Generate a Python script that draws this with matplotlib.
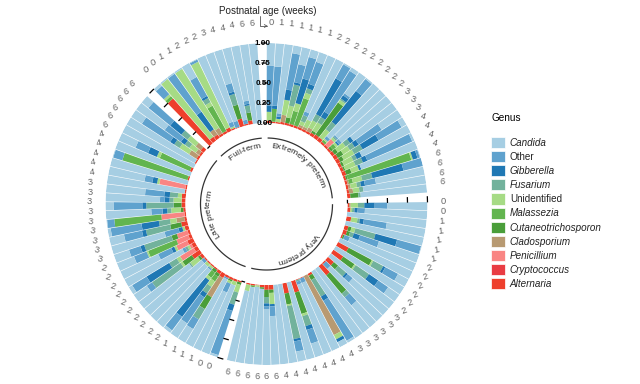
import numpy as np
import matplotlib
matplotlib.use('Agg')
import matplotlib.pyplot as plt
from matplotlib.patches import Patch

plt.rcParams['font.family'] = ['Liberation Sans', 'DejaVu Sans']

# stacking order, inner ring outwards
genera = ['Alternaria', 'Cryptococcus', 'Penicillium', 'Cladosporium', 'Cutaneotrichosporon',
          'Malassezia', 'Unidentified', 'Fusarium', 'Gibberella', 'Other', 'Candida']
colors = ['#EE3F2C', '#E93C43', '#F98583', '#B89A72', '#4A9E3A',
          '#62B54F', '#A6DB85', '#72B29C', '#1F78B4', '#5FA2CE', '#A6CEE3']

# columns follow genera
extremely = [
    [.03, 0, 0, 0, 0, 0, .11, 0, .08, .50, .28],
    [.02, 0, 0, 0, 0, .16, 0, 0, .04, .49, .29],
    [.02, 0, 0, 0, 0, 0, .04, 0, .03, .04, .87],
    [.03, 0, 0, .09, 0, 0, .19, 0, .13, .46, .10],
    [.03, 0, 0, 0, .07, 0, .15, .27, .03, .23, .22],
    [.03, 0, 0, 0, 0, .17, .10, 0, .32, .28, .10],
    [.03, 0, 0, 0, 0, .36, .07, .06, .06, .29, .13],
    [.03, 0, 0, .03, 0, 0, .05, .08, 0, .05, .76],
    [.03, 0, 0, .03, 0, 0, .10, 0, 0, 0, .84],
    [.03, 0, 0, .05, 0, 0, .10, .09, .51, .20, .02],
    [.04, 0, 0, 0, .03, 0, .12, .08, .08, .60, .05],
    [.05, 0, 0, 0, .49, 0, .04, .02, .05, .03, .32],
    [.05, 0, 0, 0, 0, 0, .13, .12, .49, .19, .02],
    [.03, 0, 0, 0, 0, .03, .02, 0, 0, .04, .88],
    [.03, 0, .10, 0, 0, 0, .03, .02, 0, .02, .80],
    [.03, 0, 0, 0, .03, .05, .03, 0, .02, .04, .80],
    [.04, 0, 0, 0, .05, 0, .12, .07, .05, 0, .67],
    [.05, 0, 0, 0, .08, 0, .10, .07, .06, .34, .30],
    [.05, 0, 0, 0, .05, 0, .15, .12, .23, .33, .07],
    [.04, 0, 0, 0, .03, 0, .13, .05, .07, 0, .68],
    [.04, 0, 0, 0, .02, 0, .14, .10, .06, .61, .03],
    [.05, 0, 0, 0, .07, 0, .10, 0, .03, 0, .75],
    [.03, 0, 0, 0, .02, .83, .02, 0, .06, .03, .01],
    [.03, 0, 0, .02, 0, .05, .12, .13, .40, .25, 0],
    [.03, 0, 0, .03, 0, 0, .08, .05, .05, .14, .62],
    [.03, 0, 0, .05, 0, 0, .08, .05, 0, 0, .79],
    [.04, 0, 0, 0, .10, 0, 0, .03, 0, 0, .83],
]
very = [
    [.02, 0, 0, .02, 0, 0, .09, .08, .13, .16, .50],
    [.04, 0, 0, 0, 0, 0, .02, .03, .04, .09, .78],
    [0, 0, 0, 0, 0, 0, 0, 0, 0, 0, 1],
    [.06, 0, 0, 0, 0, 0, .08, .03, .05, .29, .49],
    [0, 0, 0, 0, 0, 0, 0, 0, 0, 0, 1],
    [.05, 0, 0, 0, .04, 0, .05, .26, .28, .31, .01],
    [.05, 0, 0, 0, .04, 0, 0, .05, .08, .25, .53],
    [.02, 0, 0, 0, .02, 0, 0, 0, 0, .07, .89],
    [0, 0, 0, 0, 0, 0, 0, 0, 0, 0, 1],
    [.15, 0, 0, 0, .33, 0, .02, .14, .03, .18, .15],
    [0, 0, 0, 0, 0, 0, 0, 0, 0, 0, 1],
    [.15, 0, 0, 0, .17, 0, .02, .20, .14, .15, .17],
    [0, 0, 0, 0, 0, 0, 0, 0, 0, 0, 1],
    [.10, 0, 0, 0, .07, 0, 0, .13, .03, .08, .59],
    [.02, 0, 0, 0, 0, 0, 0, 0, 0, .08, .90],
    [.15, 0, 0, 0, .30, 0, 0, .06, 0, .13, .36],
    [0, 0, 0, 0, 0, 0, 0, 0, 0, 0, 1],
    [0, 0, 0, 0, 0, 0, 0, 0, 0, 0, 1],
    [.03, 0, 0, 0, .06, 0, 0, .24, .06, .58, .03],
    [0, 0, 0, .83, 0, 0, .06, 0, .04, 0, .07],
    [.01, 0, 0, 0, 0, 0, 0, 0, 0, .06, .93],
    [.01, 0, 0, 0, 0, 0, 0, .02, 0, .04, .93],
    [.15, 0, 0, 0, .28, 0, .03, .13, .05, .18, .18],
    [0, 0, 0, 0, 0, 0, 0, 0, 0, 0, 1],
    [.13, 0, 0, 0, .14, 0, .02, .42, .03, .13, .13],
    [0, 0, 0, 0, 0, 0, 0, 0, 0, 0, 1],
    [0, 0, 0, 0, 0, 0, 0, 0, 0, 0, 1],
    [.06, 0, 0, 0, .04, 0, .14, 0, .03, .12, .61],
    [.06, 0, 0, 0, .09, 0, 0, .08, .04, .03, .70],
    [.03, 0, 0, 0, .02, 0, 0, 0, 0, 0, .95],
    [.01, 0, 0, 0, 0, 0, .02, 0, 0, 0, .97],
    [.02, 0, 0, 0, 0, .02, 0, 0, 0, 0, .96],
    [.02, 0, 0, 0, 0, 0, .08, 0, 0, 0, .90],
]
late = [
    [.02, 0, 0, 0, .03, 0, .10, .16, .08, .58, .03],
    [.03, 0, 0, 0, 0, 0, .05, 0, 0, 0, .92],
    [.03, 0, 0, 0, .02, 0, .03, 0, 0, .12, .80],
    [.03, 0, 0, 0, 0, 0, 0, 0, 0, .02, .95],
    [.06, 0, 0, .28, .17, 0, 0, .15, 0, .14, .20],
    [.04, 0, 0, 0, .04, .07, .08, .10, .06, .39, .22],
    [.02, 0, 0, 0, .04, .08, .04, 0, .57, .21, .04],
    [.02, 0, 0, 0, 0, 0, .03, 0, 0, .02, .93],
    [.02, 0, 0, 0, 0, 0, .04, 0, 0, 0, .94],
    [.02, 0, 0, 0, 0, 0, 0, 0, 0, .04, .94],
    [.04, 0, 0, 0, .03, 0, .12, .02, 0, 0, .79],
    [.12, 0, 0, 0, .14, 0, .03, .43, 0, .08, .20],
    [.05, 0, .20, 0, 0, 0, .05, .11, .33, .21, .05],
    [.05, 0, .03, 0, 0, 0, .03, .03, 0, .04, .82],
    [.08, 0, .15, 0, 0, 0, .03, 0, .04, .18, .52],
    [.04, 0, .16, 0, 0, .38, .02, 0, 0, .17, .23],
    [.03, 0, .14, 0, .07, 0, 0, .36, .05, .15, .20],
    [.05, 0, 0, 0, 0, 0, .03, 0, .05, .18, .69],
    [.08, 0, 0, 0, .14, 0, 0, .31, .05, .23, .19],
    [.03, 0, 0, .10, 0, 0, .08, .14, .22, .39, .04],
    [.02, 0, .29, 0, 0, .59, 0, 0, 0, .09, .01],
    [.03, 0, 0, 0, .03, 0, .12, .05, .06, .14, .57],
    [.05, 0, 0, 0, .10, 0, 0, .34, .05, .36, .10],
    [.05, 0, 0, 0, 0, 0, .10, .05, .06, .06, .68],
    [.05, 0, 0, 0, 0, 0, .05, .10, .07, .24, .49],
    [.02, 0, 0, 0, 0, 0, 0, 0, 0, 0, .98],
    [.02, 0, .33, 0, 0, 0, .03, 0, .06, .10, .46],
    [0, 0, 0, 0, 0, 0, 0, 0, 0, 0, 1],
    [.02, 0, 0, 0, 0, .85, 0, 0, 0, .12, .01],
    [0, 0, 0, 0, 0, 0, 0, 0, 0, 0, 1],
    [.03, 0, 0, 0, 0, .41, .04, 0, .12, .17, .23],
    [0, 0, 0, 0, 0, 0, 0, 0, 0, 0, 1],
    [.02, 0, 0, 0, 0, 0, 0, 0, 0, 0, .98],
    [.03, 0, 0, .11, 0, 0, .14, .08, .06, .42, .16],
    [.03, 0, 0, .05, 0, 0, .10, .07, .06, .25, .44],
    [.05, 0, 0, .08, 0, 0, .13, .10, .18, .35, .11],
]
full = [
    [.75, 0, 0, 0, 0, .04, .03, 0, 0, .14, .04],
    [.06, 0, 0, 0, 0, 0, .92, 0, 0, 0, .02],
    [.05, 0, 0, .08, 0, 0, 0, 0, .27, .58, .02],
    [.03, 0, 0, .08, 0, 0, .87, 0, 0, 0, .02],
    [.03, 0, 0, 0, 0, .36, .05, .06, .03, .27, .20],
    [.05, 0, 0, 0, 0, 0, .91, 0, 0, .03, .01],
    [.02, 0, 0, 0, 0, 0, .02, 0, 0, .06, .90],
    [.01, 0, 0, 0, 0, 0, 0, 0, 0, .08, .91],
    [.10, 0, 0, 0, .18, 0, 0, .14, .03, .11, .44],
    [.02, 0, 0, 0, 0, 0, 0, 0, 0, .05, .93],
    [.05, 0, 0, 0, .10, 0, 0, .09, .02, .04, .70],
    [0, 0, 0, 0, 0, 0, 0, 0, 0, 0, 1],
    [0, 0, 0, 0, 0, 0, 0, 0, 0, 0, 1],
]

ages_extremely = list('0111111222222222333444466' + '66')
ages_very = list('00' + '11111' + '222222' + '333333' + '44444444' + '666666')
ages_late = list('00' + '1111' + '2222222222' + '333333333' + '44444' + '666666')
ages_full = list('0011222' + '3' + '444' + '66')

groups = [extremely, very, late, full]
ages = [ages_extremely, ages_very, ages_late, ages_full]
group_names = ['Extremely preterm', 'Very preterm', 'Late preterm', 'Full-term']
group_label_deg = [39, 145, 259, 337]
ticks = [0, .25, .5, .75, 1]
tick_labels = ['0.00', '0.25', '0.50', '0.75', '1.00']

fig = plt.figure(figsize=(6.4, 3.84), dpi=100)
ax = fig.add_axes([(266.5 - 161) / 640, (384 - 204 - 161) / 384, 322 / 640, 322 / 384], projection='polar')
ax.set_theta_zero_location('N')
ax.set_theta_direction(-1)
ax.set_ylim(0, 1)
ax.set_rorigin(-81 / 80)
ax.set_axis_off()

n_slots = sum(len(g) for g in groups) + len(groups)
slot = 2 * np.pi / n_slots
r_px = 80.0


def px(r):
    # radius in pixels from the middle to data units
    return (r - 81) / r_px


def digit_rot(t):
    return -20 * np.sin(2 * t)


pos = 0
renderer = fig.canvas.get_renderer()
for g, (rows, age, name) in enumerate(zip(groups, ages, group_names)):
    start = pos
    for row, a in zip(rows, age):
        t = (pos + .5) * slot
        bottom = 0
        for val, col in zip(row, colors):
            if val > 0:
                ax.bar(t, val, width=slot * .93, bottom=bottom, color=col, linewidth=0)
            bottom += val
        ax.text(t, px(177), a, ha='center', va='bottom', fontsize=6.7, color='#666666',
                rotation=digit_rot(t), clip_on=False)
        pos += 1
    end = pos

    # axis ticks sit in the gap before each group
    for tk in ticks:
        ax.plot([start * slot - slot * .55, start * slot], [tk, tk], color='black', lw=.9,
                clip_on=False, zorder=3)

    # group arc on the inside
    arc = np.linspace(start * slot + np.radians(1.5), end * slot - np.radians(1.5), 80)
    ax.plot(arc, np.full(arc.size, px(66)), color='#333333', lw=.9, clip_on=False)

    # curved group name, letter by letter
    centre = np.radians(group_label_deg[g])
    probe = fig.text(0, 0, name, fontsize=6.1, alpha=0)

    def width(s):
        probe.set_text(s)
        return probe.get_window_extent(renderer).width if s else 0.0

    total = width(name)
    for i, ch in enumerate(name):
        mid = (width(name[:i]) + width(name[:i + 1])) / 2 - total / 2
        th = centre + mid / 58
        ax.text(th, px(58), ch, ha='center', va='center', fontsize=6.1, color='#222222',
                rotation=-np.degrees(th), rotation_mode='anchor', clip_on=False)
    probe.remove()
    pos += 1

for tk, lab in zip(ticks, tick_labels):
    ax.text(-slot / 2, tk, lab, ha='center', va='center', fontsize=5.8, fontweight='bold',
            color='black', clip_on=False, zorder=5)

fig.text(267.5 / 640, 1 - 10.5 / 384, 'Postnatal age (weeks)', ha='center', va='center', fontsize=7.1, color='#222222')
ax.annotate('', xy=(268, 384 - 26), xytext=(260, 384 - 16), xycoords='figure pixels', textcoords='figure pixels',
            arrowprops=dict(arrowstyle='->', color='#555555', lw=.6, mutation_scale=5, shrinkA=0, shrinkB=0,
                            connectionstyle='angle,angleA=90,angleB=0,rad=0'))

handles = [Patch(facecolor=c, edgecolor='white', linewidth=.5) for c in colors[::-1]]
leg = fig.legend(handles, genera[::-1], title='Genus', loc='upper left', bbox_to_anchor=(491 / 640, 1 - 113 / 384),
                 frameon=False, fontsize=7.15, title_fontsize=7.2, handlelength=1.4, handleheight=1.35,
                 labelspacing=.30, handletextpad=.5, borderpad=0, borderaxespad=0)
leg._legend_box.align = 'left'
leg._legend_box.sep = 10
for txt in leg.get_texts():
    if txt.get_text() not in ('Other', 'Unidentified'):
        txt.set_fontstyle('italic')
    txt.set_color('#222222')

fig.savefig('out.png', dpi=100)
